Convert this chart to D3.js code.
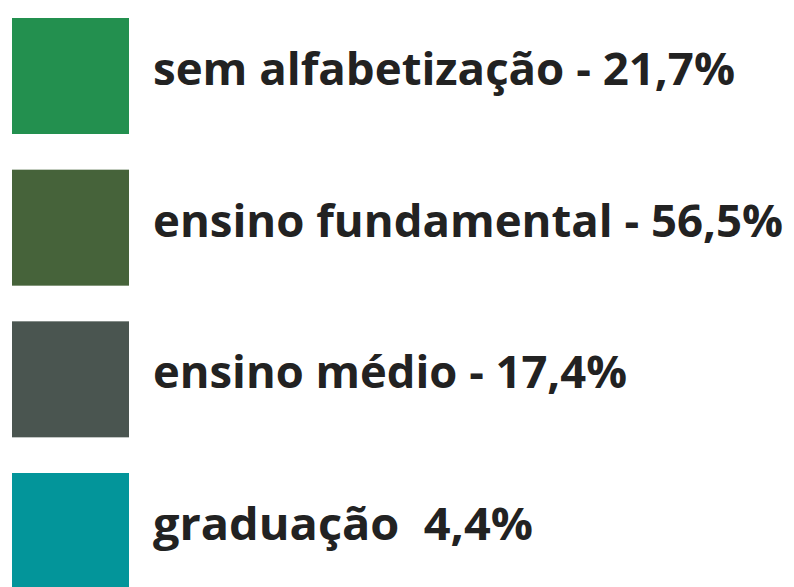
<!DOCTYPE html>
<html>
<head>
<meta charset="utf-8">
<script src="https://cdn.jsdelivr.net/npm/d3@7"></script>
<style>
  body { margin: 0; background: #fff; }
  .label { font-family: "Open Sans", sans-serif; font-weight: 700; fill: #222; white-space: pre; }
</style>
</head>
<body>
<svg id="legend" width="794" height="587"></svg>
<script>
// DATA
const categories = ["sem alfabetização", "ensino fundamental", "ensino médio", "graduação"];
const values = [21.7, 56.5, 17.4, 4.4];
const separators = [" - ", " - ", " - ", "  "];
const colors = ["#23904f", "#46633a", "#4a5550", "#03959a"];

// SETUP
const svg = d3.select("#legend");
const swatch = { w: 117, h: 116 };
const textX = 153;
// target widths of each label so the bold type lines up with the original
const labelWidths = [582, 630, 474, 380];

const rows = categories.map((c, i) => ({
    category: c,
    value: values[i],
    label: c + separators[i] + d3.format(".1f")(values[i]).replace(".", ",") + "%",
    color: colors[i],
    width: labelWidths[i]
}));

// vertical position of each row
const yScale = d3.scalePoint()
    .domain(categories)
    .range([18, 473]);

const color = d3.scaleOrdinal()
    .domain(categories)
    .range(colors);

const row = svg.selectAll("g.row")
    .data(rows)
    .enter()
    .append("g")
    .attr("class", "row")
    .attr("transform", d => `translate(0,${yScale(d.category)})`);

// swatches
row.append("rect")
    .attr("x", 12)
    .attr("y", 0)
    .attr("width", swatch.w)
    .attr("height", swatch.h)
    .attr("fill", d => color(d.category));

// labels
row.append("text")
    .attr("class", "label")
    .attr("xml:space", "preserve")
    .attr("x", textX)
    .attr("y", 67)
    .attr("font-size", 45)
    .attr("textLength", d => d.width)
    .attr("lengthAdjust", "spacingAndGlyphs")
    .text(d => d.label);
</script>
</body>
</html>
